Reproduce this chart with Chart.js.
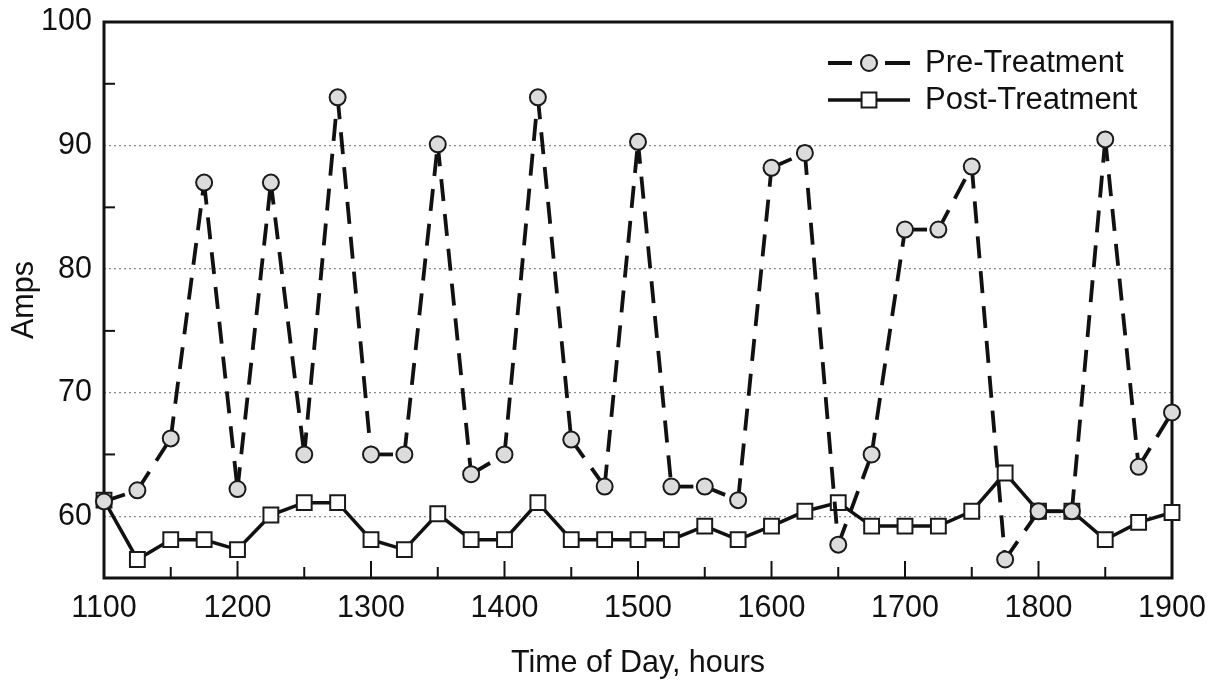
<!DOCTYPE html>
<html>
<head>
<meta charset="utf-8">
<script src="https://cdn.jsdelivr.net/npm/chart.js@4.4.0/dist/chart.umd.min.js"></script>
<style>
  html, body { margin: 0; padding: 0; background: #fff; }
  #wrap { width: 1210px; height: 685px; }
</style>
</head>
<body>
<div id="wrap"><canvas id="chart" width="1210" height="685"></canvas></div>
<script>
const times = [1100, 1125, 1150, 1175, 1200, 1225, 1250, 1275, 1300, 1325, 1350,
  1375, 1400, 1425, 1450, 1475, 1500, 1525, 1550, 1575, 1600, 1625, 1650,
  1675, 1700, 1725, 1750, 1775, 1800, 1825, 1850, 1875, 1900];
const preTreatment = [61.2, 62.1, 66.3, 87.0, 62.2, 87.0, 65.0, 93.9, 65.0, 65.0, 90.1,
  63.4, 65.0, 93.9, 66.2, 62.4, 90.3, 62.4, 62.4, 61.3, 88.2, 89.4, 57.7,
  65.0, 83.2, 83.2, 88.3, 56.5, 60.4, 60.4, 90.5, 64.0, 68.4];
const postTreatment = [61.3, 56.5, 58.1, 58.1, 57.3, 60.1, 61.1, 61.1, 58.1, 57.3, 60.2,
  58.1, 58.1, 61.1, 58.1, 58.1, 58.1, 58.1, 59.2, 58.1, 59.2, 60.4, 61.1,
  59.2, 59.2, 59.2, 60.4, 63.5, 60.4, 60.4, 58.1, 59.5, 60.3];
const xTickLabels = [1100, 1200, 1300, 1400, 1500, 1600, 1700, 1800, 1900];
const yTickLabels = [60, 70, 80, 90, 100];
const yGridLines = [60, 70, 80, 90];

(function () {
  Chart.defaults.font.family = "'Liberation Sans', Arial, sans-serif";
  Chart.defaults.font.size = 30.5;
  Chart.defaults.color = '#111';

  const PRE_DASH = [22, 13];

  function toPoints(values) {
    return times.map((t, i) => ({ x: t, y: values[i] }));
  }

  // box around the plot and inward tick marks
  const framePlugin = {
    id: 'frame',
    beforeDatasetsDraw(chart) {
      const { ctx, chartArea: a, scales } = chart;
      ctx.save();
      ctx.strokeStyle = '#111';
      ctx.lineWidth = 2;
      scales.x.ticks.forEach(t => {
        if (t.value <= 1100 || t.value >= 1900) return;
        const px = scales.x.getPixelForValue(t.value);
        const len = t.value % 100 === 0 ? 17 : 11;
        ctx.beginPath();
        ctx.moveTo(px, a.bottom);
        ctx.lineTo(px, a.bottom - len);
        ctx.stroke();
      });
      scales.y.ticks.forEach(t => {
        if (t.value % 10 !== 5) return;
        const py = scales.y.getPixelForValue(t.value);
        ctx.beginPath();
        ctx.moveTo(a.left, py);
        ctx.lineTo(a.left + 11, py);
        ctx.stroke();
      });
      ctx.lineWidth = 3;
      ctx.strokeRect(a.left, a.top, a.right - a.left, a.bottom - a.top);
      ctx.restore();
    },
    afterDraw(chart) {
      const { ctx, chartArea: a } = chart;
      const x0 = a.right - 344, x1 = a.right - 262, xm = a.right - 303, xt = a.right - 247;
      const rows = [a.top + 41, a.top + 78];
      ctx.save();
      chart.data.datasets.forEach((ds, i) => {
        const y = rows[i];
        ctx.strokeStyle = '#111';
        ctx.lineWidth = ds.borderWidth;
        ctx.beginPath();
        if (ds.borderDash) {
          ctx.moveTo(x0, y); ctx.lineTo(x0 + 24, y);
          ctx.moveTo(x1 - 25, y); ctx.lineTo(x1, y);
        } else {
          ctx.moveTo(x0, y); ctx.lineTo(x1, y);
        }
        ctx.stroke();
        ctx.fillStyle = ds.pointBackgroundColor;
        ctx.strokeStyle = ds.pointBorderColor;
        ctx.lineWidth = ds.pointBorderWidth;
        Chart.helpers.drawPoint(ctx, {
          pointStyle: ds.pointStyle, radius: ds.pointRadius, borderWidth: ds.pointBorderWidth, rotation: 0
        }, xm, y);
        ctx.fillStyle = '#111';
        ctx.font = "31px 'Liberation Sans', Arial, sans-serif";
        ctx.textBaseline = 'middle';
        ctx.textAlign = 'left';
        ctx.fillText(ds.label, xt, y);
      });
      ctx.restore();
    }
  };

  const config = {
    type: 'line',
    data: {
      datasets: [
        {
          label: 'Pre-Treatment',
          data: toPoints(preTreatment),
          borderColor: '#111',
          borderWidth: 3.8,
          borderDash: PRE_DASH,
          segment: {
            borderDashOffset: c => (c.p0DataIndex % 2) * 0.001
          },
          pointStyle: 'circle',
          pointRadius: 8,
          pointBackgroundColor: '#dcdcdc',
          pointBorderColor: '#1a1a1a',
          pointBorderWidth: 2,
          tension: 0,
          clip: false
        },
        {
          label: 'Post-Treatment',
          data: toPoints(postTreatment),
          borderColor: '#111',
          borderWidth: 3.5,
          pointStyle: 'rect',
          pointRadius: 10.5,
          pointBackgroundColor: '#ffffff',
          pointBorderColor: '#1a1a1a',
          pointBorderWidth: 2,
          tension: 0,
          clip: false
        }
      ]
    },
    options: {
      responsive: false,
      animation: false,
      events: [],
      layout: { padding: { left: 0, right: 38, top: 22, bottom: 0 } },
      plugins: {
        legend: { display: false },
        tooltip: { enabled: false }
      },
      scales: {
        x: {
          type: 'linear',
          min: 1100,
          max: 1900,
          afterFit(scale) {
            scale.height = 107;
            scale.paddingLeft = 0;
            scale.paddingRight = 0;
          },
          ticks: {
            stepSize: 50,
            padding: 12,
            maxRotation: 0,
            autoSkip: false,
            callback: v => xTickLabels.includes(v) ? String(v) : ''
          },
          grid: { display: false, drawTicks: false },
          border: { display: false },
          title: {
            display: true,
            text: 'Time of Day, hours',
            padding: { top: 0, bottom: 3 }
          }
        },
        y: {
          min: 55,
          max: 100,
          afterFit(scale) {
            scale.width = 104;
            scale.paddingTop = 0;
            scale.paddingBottom = 0;
          },
          ticks: {
            stepSize: 5,
            padding: 12,
            autoSkip: false,
            callback: v => yTickLabels.includes(v) ? String(v) : ''
          },
          grid: {
            drawTicks: false,
            lineWidth: 1.3,
            color: c => yGridLines.includes(c.tick.value) ? '#8a8a8a' : 'rgba(0,0,0,0)'
          },
          border: { display: false, dash: [2, 3] },
          title: {
            display: true,
            text: 'Amps',
            padding: { top: 6, bottom: 0 }
          }
        }
      }
    },
    plugins: [framePlugin]
  };

  new Chart(document.getElementById('chart').getContext('2d'), config);
}());
</script>
</body>
</html>
